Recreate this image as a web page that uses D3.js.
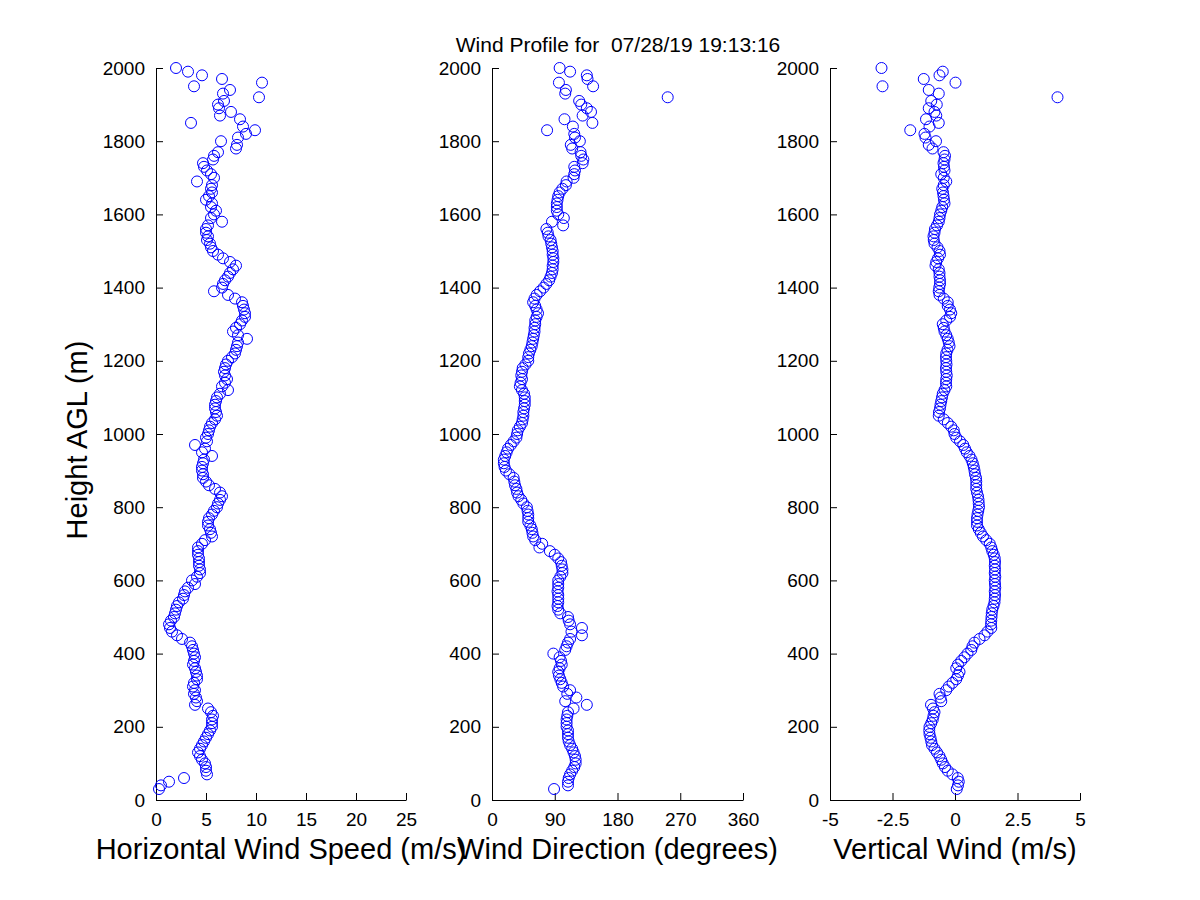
<!DOCTYPE html>
<html>
<head>
<meta charset="utf-8">
<script src="https://cdn.jsdelivr.net/npm/d3@7"></script>
<style>
  body { margin: 0; background: #fff; }
  svg { font-family: "Liberation Sans", Arial, sans-serif; }
</style>
</head>
<body>
<svg id="chart" width="1200" height="900"></svg>
<script>
// range gates (m AGL)
var heights = [
  30,40,50,60,70,80,90,100,110,120,
  130,140,150,160,170,180,190,200,210,220,
  230,240,250,260,270,280,290,300,310,320,
  330,340,350,360,370,380,390,400,410,420,
  430,440,450,460,470,480,490,500,510,520,
  530,540,550,560,570,580,590,600,610,620,
  630,640,650,660,670,680,690,700,710,720,
  730,740,750,760,770,780,790,800,810,820,
  830,840,850,860,870,880,890,900,910,920,
  930,940,950,960,970,980,990,1000,1010,1020,
  1030,1040,1050,1060,1070,1080,1090,1100,1110,1120,
  1130,1140,1150,1160,1170,1180,1190,1200,1210,1220,
  1230,1240,1250,1260,1270,1280,1290,1300,1310,1320,
  1330,1340,1350,1360,1370,1380,1390,1400,1410,1420,
  1430,1440,1450,1460,1470,1480,1490,1500,1510,1520,
  1530,1540,1550,1560,1570,1580,1590,1600,1610,1620,
  1630,1640,1650,1660,1670,1680,1690,1700,1710,1720,
  1730,1740,1750,1760,1770,1780,1790,1800,1810,1820,
  1830,1840,1850,1860,1870,1880,1890,1900,1910,1920,
  1930,1940,1950,1960,1970,1980,1990,2000
];

// horizontal wind speed (m/s)
var speed = [
  0.3,0.5,1.3,2.8,5.1,5.0,5.0,4.9,4.6,4.4,
  4.2,4.4,4.6,4.8,5.0,5.2,5.4,5.6,5.6,5.6,
  5.7,5.5,5.2,3.9,4.1,4.0,3.8,3.9,3.7,3.8,
  4.1,4.1,4.0,3.9,3.7,3.8,3.9,3.8,3.7,3.6,
  3.4,2.6,2.1,1.6,1.4,1.3,1.5,1.8,1.9,2.0,
  2.1,2.3,2.7,2.8,2.9,3.2,3.9,3.6,4.1,4.4,
  4.4,4.3,4.3,4.3,4.2,4.2,4.2,4.6,4.9,5.6,
  5.5,5.4,5.2,5.2,5.3,5.6,5.8,6.1,6.2,6.4,
  6.6,6.4,5.9,5.3,5.0,4.7,4.7,4.6,4.6,4.7,
  4.8,5.6,4.6,4.9,3.9,5.1,5.0,5.2,5.3,5.4,
  5.6,5.9,6.1,6.0,5.9,5.9,6.0,6.1,6.4,7.2,
  6.6,6.9,7.1,6.9,6.8,6.9,7.0,7.2,7.6,7.9,
  8.0,8.1,8.2,9.1,8.2,7.7,8.0,8.4,8.6,8.9,
  8.9,8.8,8.7,8.6,7.9,7.2,5.8,6.6,6.7,6.9,
  7.2,7.4,7.7,8.0,7.4,6.7,6.2,5.7,5.5,5.4,
  5.1,5.2,5.0,5.0,5.2,6.6,5.5,5.8,6.0,5.5,
  5.6,5.0,5.3,5.6,5.5,5.6,4.1,5.8,5.5,5.1,
  4.8,4.7,5.7,5.8,6.2,8.0,8.1,6.5,8.2,9.0,
  9.9,8.7,3.5,8.4,6.4,7.5,6.3,6.2,6.8,10.3,
  6.7,7.4,3.8,10.6,6.6,4.6,3.2,2.0
];

// wind direction (degrees)
var direction = [
  89,109,109,110,112,115,118,120,120,119,
  117,115,112,110,109,109,109,107,107,107,
  108,109,117,136,105,121,108,112,102,100,
  98,96,95,97,100,99,97,88,105,107,
  109,112,129,114,129,112,110,109,98,95,
  94,95,95,95,94,95,95,95,98,101,
  101,100,99,95,90,83,68,72,62,59,
  58,57,55,52,52,52,51,50,45,42,
  38,36,35,33,32,31,25,20,18,17,
  17,19,21,23,27,31,35,36,37,40,
  43,44,45,45,46,47,47,47,46,43,
  40,41,43,42,43,44,48,52,52,53,
  55,57,58,59,60,61,61,62,62,64,
  66,64,62,59,61,64,69,74,78,82,
  84,86,87,87,88,88,87,87,86,85,
  84,81,80,78,102,86,103,95,93,93,
  93,94,95,97,101,106,107,117,118,119,
  118,130,131,128,127,115,113,126,119,118,
  79,116,144,104,130,142,136,128,125,252,
  105,106,145,96,137,136,112,97
];

// vertical wind (m/s)
var vertical = [
  0.07,0.12,0.15,0.11,-0.1,-0.29,-0.4,-0.49,-0.55,-0.62,
  -0.72,-0.82,-0.92,-0.95,-0.98,-1.02,-1.03,-1.02,-0.95,-0.89,
  -0.86,-0.82,-0.88,-0.96,-0.55,-0.58,-0.62,-0.35,-0.25,-0.1,
  0.05,0.12,0.18,0.05,0.12,0.25,0.38,0.5,0.65,0.7,
  0.78,0.98,1.18,1.3,1.45,1.44,1.45,1.46,1.47,1.49,
  1.54,1.58,1.59,1.6,1.59,1.61,1.6,1.59,1.61,1.59,
  1.6,1.59,1.6,1.59,1.55,1.49,1.45,1.39,1.25,1.12,
  1.03,0.95,0.88,0.88,0.88,0.9,0.93,0.96,0.95,0.94,
  0.92,0.88,0.85,0.85,0.85,0.84,0.8,0.78,0.75,0.71,
  0.66,0.58,0.47,0.4,0.33,0.2,0.05,-0.02,-0.05,-0.15,
  -0.29,-0.45,-0.65,-0.64,-0.6,-0.58,-0.55,-0.52,-0.49,-0.42,
  -0.35,-0.36,-0.35,-0.33,-0.35,-0.36,-0.34,-0.35,-0.36,-0.35,
  -0.3,-0.22,-0.25,-0.29,-0.35,-0.42,-0.45,-0.49,-0.35,-0.2,
  -0.15,-0.2,-0.29,-0.29,-0.45,-0.62,-0.65,-0.63,-0.6,-0.6,
  -0.62,-0.62,-0.65,-0.78,-0.75,-0.68,-0.6,-0.62,-0.7,-0.82,
  -0.85,-0.86,-0.82,-0.8,-0.72,-0.65,-0.62,-0.6,-0.55,-0.51,
  -0.42,-0.44,-0.46,-0.48,-0.51,-0.45,-0.35,-0.45,-0.55,-0.42,
  -0.44,-0.46,-0.42,-0.4,-0.46,-0.9,-1.05,-0.76,-1.18,-1.22,
  -1.79,-1.02,-0.65,-1.16,-0.75,-0.82,-1.05,-0.73,-0.95,4.1,
  -0.65,-1.05,-2.9,0.02,-1.25,-0.62,-0.49,-2.94
];

var yTicks = [0,200,400,600,800,1000,1200,1400,1600,1800,2000];
var speedTicks = [0,5,10,15,20,25];
var dirTicks = [0,90,180,270,360];
var vertTicks = [-5,-2.5,0,2.5,5];
var vertTickLabels = ["-5","-2.5","0","2.5","5"];

var title = "Wind Profile for  07/28/19 19:13:16";
var yLabel = "Height AGL (m)";

var panels = [
  {vals: speed, domain: [0,25], ticks: speedTicks, labels: speedTicks.map(String), x0: 156, x1: 406, label: "Horizontal Wind Speed (m/s)"},
  {vals: direction, domain: [0,360], ticks: dirTicks, labels: dirTicks.map(String), x0: 492, x1: 743, label: "Wind Direction (degrees)"},
  {vals: vertical, domain: [-5,5], ticks: vertTicks, labels: vertTickLabels, x0: 830, x1: 1080, label: "Vertical Wind (m/s)"}
];

var svg = d3.select("#chart");
var plotTop = 68, plotBottom = 800;

var y = d3.scaleLinear().domain([0,2000]).range([plotBottom, plotTop]);

svg.append("text")
  .attr("x", 618).attr("y", 52)
  .attr("text-anchor", "middle")
  .attr("font-size", 21)
  .style("white-space", "pre")
  .text(title);

svg.append("text")
  .attr("transform", "translate(87,440) rotate(-90)")
  .attr("text-anchor", "middle")
  .attr("font-size", 29)
  .text(yLabel);

panels.forEach(function(p){
  var x = d3.scaleLinear().domain(p.domain).range([p.x0, p.x1]);
  var g = svg.append("g");

  // ticks point inward, no box
  var yAxis = d3.axisLeft(y).tickValues(yTicks).tickFormat(d3.format("d"))
    .tickSizeInner(-7).tickSizeOuter(0).tickPadding(11);
  var ya = g.append("g").attr("transform", "translate(" + p.x0 + ",0)").call(yAxis);

  var xAxis = d3.axisBottom(x).tickValues(p.ticks)
    .tickFormat(function(d,i){ return p.labels[i]; })
    .tickSizeInner(-7).tickSizeOuter(0).tickPadding(13);
  var xa = g.append("g").attr("transform", "translate(0," + plotBottom + ")").call(xAxis);

  [ya, xa].forEach(function(a){
    a.selectAll("path").attr("stroke", "#000").attr("stroke-width", 1);
    a.selectAll("line").attr("stroke", "#000");
    a.selectAll("text").attr("font-size", 19).attr("fill", "#000")
      .attr("font-family", "Liberation Sans, Arial, sans-serif");
  });

  g.append("g").selectAll("circle")
    .data(p.vals)
    .enter().append("circle")
    .attr("cx", function(d){ return x(d); })
    .attr("cy", function(d,i){ return y(heights[i]); })
    .attr("r", 5.5)
    .attr("fill", "none")
    .attr("stroke", "#0000ff")
    .attr("stroke-width", 1);

  svg.append("text")
    .attr("x", (p.x0 + p.x1)/2).attr("y", 859)
    .attr("text-anchor", "middle")
    .attr("font-size", 29)
    .text(p.label);
});
</script>
</body>
</html>
